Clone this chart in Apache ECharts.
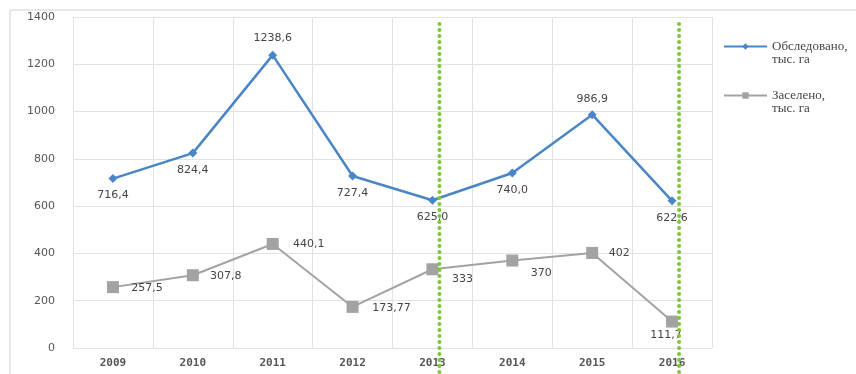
<!DOCTYPE html>
<html><head><meta charset="utf-8">
<script src="https://cdn.jsdelivr.net/npm/echarts@6/dist/echarts.min.js"></script>
<style>html,body{margin:0;padding:0;background:#fff}#c{width:856px;height:374px}</style>
</head><body><div id="c"></div>
<script>
const years = ['2009','2010','2011','2012','2013','2014','2015','2016'];
const surveyed = [716.4, 824.4, 1238.6, 727.4, 625.0, 740.0, 986.9, 622.6];
const surveyedLabels = ['716,4','824,4','1238,6','727,4','625,0','740,0','986,9','622,6'];
const infested = [257.5, 307.8, 440.1, 173.77, 333, 370, 402, 111.7];
const infestedLabels = ['257,5','307,8','440,1','173,77','333','370','402','111,7'];
const seriesNames = ['Обследовано,\nтыс. га', 'Заселено,\nтыс. га'];
const markedYears = ['2013','2016'];

const txt = {color:'#444', fontFamily:'DejaVu Sans', fontSize:11};
const blueLabelPos = [[0,17],[0,17],[0,-17],[0,17],[0,17],[0,17],[0,-16],[0,17]];
const grayLabelPos = [[34,1],[33,1],[36,0],[39,1],[30,10],[29,13],[27,0],[-6,14]];

const chart = echarts.init(document.getElementById('c'));
chart.setOption({
  animation:false,
  grid:{left:73, right:144, top:17, bottom:26},
  legend:{
    orient:'vertical', left:723, top:27, padding:0, itemWidth:43, itemHeight:8, itemGap:10,
    formatter: name => '{e|\u00a0}\n' + name.split('\n').map(s=>'{t|'+s+'}').join('\n'),
    textStyle:{color:'#444', fontFamily:'Liberation Serif', fontSize:13,
      rich:{t:{fontFamily:'Liberation Serif', fontSize:13, lineHeight:13, color:'#444'},
            e:{fontSize:13, lineHeight:13}}},
    data:[seriesNames[0], seriesNames[1]]
  },
  xAxis:{type:'category', data:years, boundaryGap:true,
    axisLine:{show:false}, axisTick:{show:false},
    splitLine:{show:true, lineStyle:{color:'#e2e2e2', width:1}},
    axisLabel:{color:'#555', fontFamily:'DejaVu Sans Mono', fontSize:11, fontWeight:'bold', margin:10}
  },
  yAxis:{type:'value', min:0, max:1400, interval:200,
    axisLine:{show:false}, axisTick:{show:false},
    splitLine:{lineStyle:{color:'#e2e2e2'}},
    axisLabel:{color:'#555', fontFamily:'DejaVu Sans', fontSize:11, margin:18, formatter:v=>String(v)}
  },
  series:[
    {name:seriesNames[0], type:'line', data:surveyed.map((v,i)=>({value:v, label:{offset:blueLabelPos[i]}})),
     symbol:'diamond', symbolSize:9, itemStyle:{color:'#4a86c6'}, lineStyle:{color:'#4a86c6', width:2.5},
     label:{show:true, position:'inside', formatter:p=>surveyedLabels[p.dataIndex], ...txt}},
    {name:seriesNames[1], type:'line', data:infested.map((v,i)=>({value:v, label:{offset:grayLabelPos[i]}})),
     symbol:'rect', symbolSize:12, itemStyle:{color:'#a3a3a3'}, lineStyle:{color:'#a3a3a3', width:2},
     label:{show:true, position:'inside', formatter:p=>infestedLabels[p.dataIndex], ...txt}}
  ]
});

function drawExtras(){
  const els = [
    {type:'line', shape:{x1:10,y1:10,x2:856,y2:10}, style:{stroke:'#d0d0d0', lineWidth:1}},
    {type:'line', shape:{x1:10,y1:10,x2:10,y2:374}, style:{stroke:'#d0d0d0', lineWidth:1}}
  ];
  markedYears.forEach(y=>{
    const x = chart.convertToPixel({xAxisIndex:0}, y) + 7;
    els.push({type:'line', z:100, shape:{x1:x,y1:24,x2:x,y2:374},
      style:{stroke:'#7cc735', lineWidth:4, lineCap:'round', lineDash:[0,6]}});
  });
  chart.setOption({graphic:els});
}
drawExtras();
</script></body></html>
